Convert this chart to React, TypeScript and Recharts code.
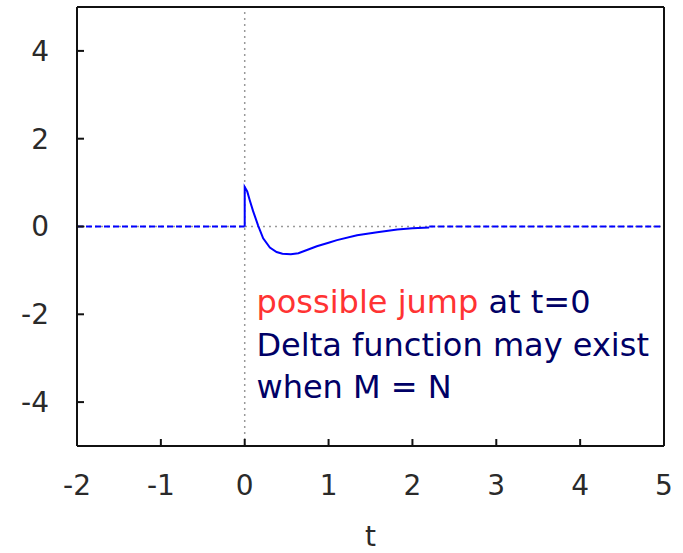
import { LineChart, Line, XAxis, YAxis, ReferenceLine, ReferenceDot } from 'recharts';

// step response: flat before t=0, jump at t=0, undershoot, settles to 0
const leftFlat = [
  { t: -2, v: 0 },
  { t: 0, v: 0 },
];

const response = [
  { t: 0, v: 0 },
  { t: 0, v: 0.9 },
  { t: 0.03, v: 0.8 },
  { t: 0.06, v: 0.6 },
  { t: 0.1, v: 0.35 },
  { t: 0.16, v: 0.02 },
  { t: 0.22, v: -0.27 },
  { t: 0.3, v: -0.48 },
  { t: 0.38, v: -0.58 },
  { t: 0.45, v: -0.62 },
  { t: 0.55, v: -0.63 },
  { t: 0.64, v: -0.61 },
  { t: 0.75, v: -0.53 },
  { t: 0.86, v: -0.45 },
  { t: 1.0, v: -0.37 },
  { t: 1.1, v: -0.31 },
  { t: 1.34, v: -0.2 },
  { t: 1.58, v: -0.13 },
  { t: 1.82, v: -0.07 },
  { t: 2.0, v: -0.04 },
  { t: 2.2, v: -0.02 },
];

const rightFlat = [
  { t: 2.2, v: 0 },
  { t: 5, v: 0 },
];

const xTicks = [-2, -1, 0, 1, 2, 3, 4, 5];
const yTicks = [-4, -2, 0, 2, 4];
const noteLines = ['Delta function may exist', 'when M = N'];

const FONT = '"DejaVu Sans", sans-serif';
const tickStyle = { fontSize: 28, fill: '#2a2a2a', fontFamily: FONT };
const axisStroke = { stroke: '#111', strokeWidth: 2 };

function Note(props: any) {
  const vb = props.viewBox;
  const x = vb.x + vb.width / 2;
  const y = vb.y + vb.height / 2;
  return (
    <text x={x} y={y} fontSize={32} fontFamily={FONT}>
      <tspan fill="#ff3333">possible jump</tspan>
      <tspan fill="#000066"> at t=0</tspan>
      {noteLines.map((line) => (
        <tspan key={line} x={x} dy={42.5} fill="#000066">
          {line}
        </tspan>
      ))}
    </text>
  );
}

export default function App() {
  return (
    <div style={{ position: 'absolute', left: 0, top: 0, background: '#fff' }}>
      <LineChart width={683} height={553} margin={{ top: 6, right: 18, bottom: 0, left: 0 }}>
        <XAxis
          xAxisId="b"
          type="number"
          dataKey="t"
          domain={[-2, 5]}
          ticks={xTicks}
          allowDataOverflow
          height={107}
          axisLine={axisStroke}
          tickLine={axisStroke}
          tickSize={-7}
          tickMargin={36}
          tick={tickStyle}
          label={{ value: 't', position: 'insideBottom', offset: 7, fontSize: 28, fill: '#2a2a2a', fontFamily: FONT }}
        />
        <XAxis
          xAxisId="top"
          orientation="top"
          type="number"
          dataKey="t"
          domain={[-2, 5]}
          ticks={xTicks}
          allowDataOverflow
          height={1}
          axisLine={axisStroke}
          tickLine={axisStroke}
          tickSize={-7}
          tick={false}
        />
        <YAxis
          yAxisId="l"
          type="number"
          domain={[-5, 5]}
          ticks={yTicks}
          allowDataOverflow
          width={77}
          axisLine={axisStroke}
          tickLine={axisStroke}
          tickSize={-7}
          tickMargin={35}
          tick={tickStyle}
        />
        <YAxis
          yAxisId="r"
          orientation="right"
          type="number"
          domain={[-5, 5]}
          ticks={yTicks}
          allowDataOverflow
          width={1}
          axisLine={axisStroke}
          tickLine={axisStroke}
          tickSize={-7}
          tick={false}
        />
        <ReferenceLine xAxisId="b" yAxisId="l" x={0} stroke="#999" strokeWidth={1.5} strokeDasharray="2 4" />
        <ReferenceLine xAxisId="b" yAxisId="l" y={0} stroke="#999" strokeWidth={1.5} strokeDasharray="2 4" />
        <Line
          xAxisId="b"
          yAxisId="l"
          data={leftFlat}
          dataKey="v"
          stroke="#0000ff"
          strokeWidth={2}
          strokeDasharray="6 3"
          dot={false}
          type="linear"
          isAnimationActive={false}
        />
        <Line
          xAxisId="b"
          yAxisId="l"
          data={response}
          dataKey="v"
          stroke="#0000ff"
          strokeWidth={2}
          dot={false}
          type="linear"
          isAnimationActive={false}
        />
        <Line
          xAxisId="b"
          yAxisId="l"
          data={rightFlat}
          dataKey="v"
          stroke="#0000ff"
          strokeWidth={2}
          strokeDasharray="6 3"
          dot={false}
          type="linear"
          isAnimationActive={false}
        />
        <ReferenceDot
          xAxisId="b"
          yAxisId="l"
          x={0.14}
          y={-1.98}
          r={1}
          fill="none"
          stroke="none"
          label={<Note />}
        />
      </LineChart>
    </div>
  );
}
